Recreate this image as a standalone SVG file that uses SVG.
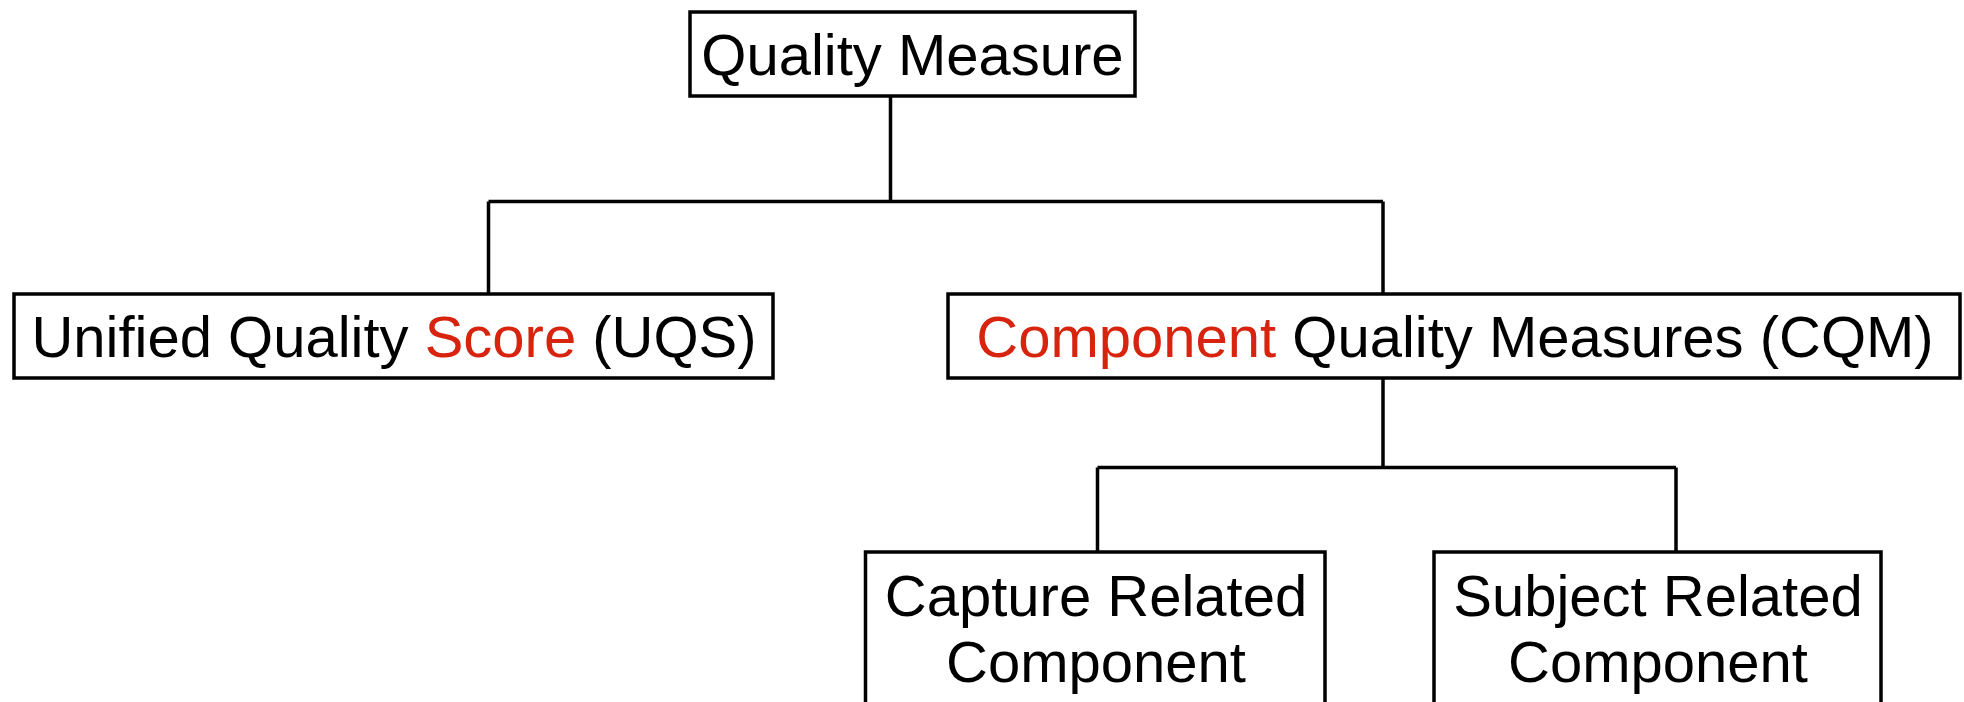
<svg xmlns="http://www.w3.org/2000/svg" width="1964" height="702" viewBox="0 0 1964 702">
<style>
.box{fill:#fff;stroke:#000;stroke-width:3.5}
.ln{fill:none;stroke:#000;stroke-width:3.5}
.t{font-family:"Liberation Sans",Arial,sans-serif;font-size:58px;fill:#000;text-anchor:middle}
.red{fill:#d8230e}
</style>
<rect width="1964" height="702" fill="#fff"/>
<g id="connectors">
<path class="ln" d="M890.5 96 V201.5 M488.5 201.5 H1383 M488.5 201.5 V294 M1383 201.5 V294"/>
<path class="ln" d="M1383 378 V467.5 M1097.5 467.5 H1676 M1097.5 467.5 V552 M1676 467.5 V552"/>
</g>
<g id="quality-measure">
<rect class="box" x="690" y="12" width="445" height="84"/>
<text class="t" x="912.5" y="74.5">Quality Measure</text>
</g>
<g id="uqs">
<rect class="box" x="14" y="294" width="759" height="84"/>
<text class="t" x="394" y="356.5">Unified Quality <tspan class="red">Score</tspan> (UQS)</text>
</g>
<g id="cqm">
<rect class="box" x="948" y="294" width="1012" height="84"/>
<text class="t" x="1455" y="356.5"><tspan class="red">Component</tspan> Quality Measures (CQM)</text>
</g>
<g id="capture">
<rect class="box" x="865.5" y="552" width="459.5" height="180"/>
<text class="t" x="1096" y="616">Capture Related</text>
<text class="t" x="1096" y="682">Component</text>
</g>
<g id="subject">
<rect class="box" x="1434" y="552" width="447" height="180"/>
<text class="t" x="1658" y="616">Subject Related</text>
<text class="t" x="1658" y="682">Component</text>
</g>
</svg>
